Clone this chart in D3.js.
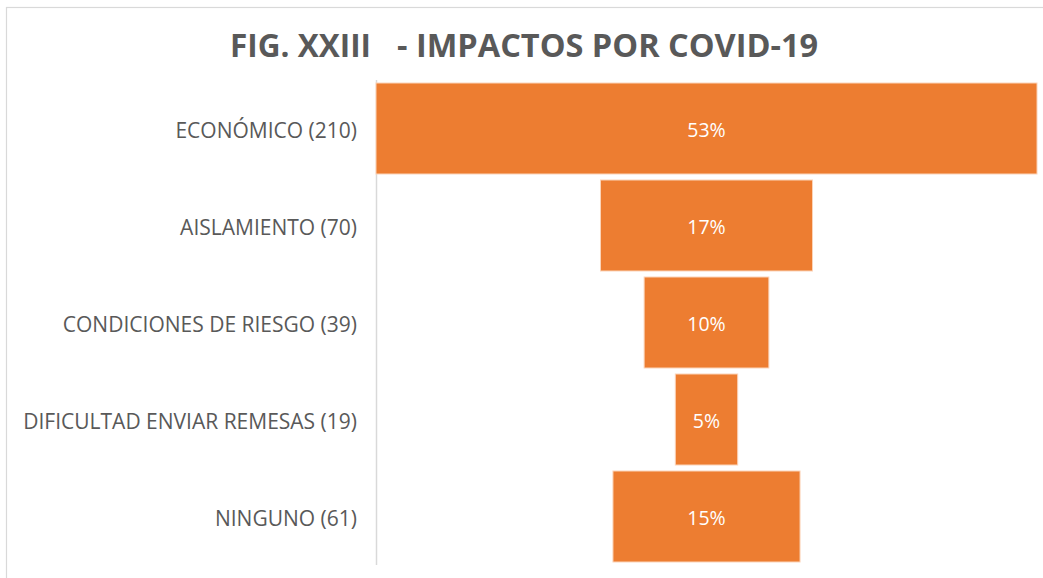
<!DOCTYPE html>
<html>
<head>
<meta charset="utf-8">
<script src="https://cdn.jsdelivr.net/npm/d3@7"></script>
<style>
  body { margin: 0; background: #fff; }
  svg { display: block; font-family: "Open Sans", sans-serif; }
</style>
</head>
<body>
<script>
// data
const categories = ["ECONÓMICO", "AISLAMIENTO", "CONDICIONES DE RIESGO", "DIFICULTAD ENVIAR REMESAS", "NINGUNO"];
const counts = [210, 70, 39, 19, 61];
const percents = [53, 17, 10, 5, 15];

const width = 1043, height = 578;
const data = categories.map((c, i) => ({ cat: c, n: counts[i], pct: percents[i] }));

const svg = d3.select("body").append("svg")
  .attr("width", width)
  .attr("height", height);

// chart area border (runs off the right and bottom edges)
svg.append("rect")
  .attr("x", 6.5).attr("y", 7.5)
  .attr("width", width + 10).attr("height", height + 10)
  .attr("fill", "none")
  .attr("stroke", "#d9d9d9")
  .attr("stroke-width", 1.2);

const maxPct = d3.max(percents);
const x = d3.scaleLinear()
  .domain([-maxPct / 2, maxPct / 2])
  .range([376, 1037]);

const y = d3.scaleBand()
  .domain(categories)
  .range([80, 565])
  .paddingInner(0.062)
  .paddingOuter(0.031);

// title
const title = svg.append("text")
  .attr("y", 57)
  .attr("fill", "#595959")
  .attr("font-weight", "bold")
  .attr("font-size", 31.5);
title.append("tspan").attr("x", 230).text("FIG. XXIII");
title.append("tspan").attr("x", 397).attr("font-size", 32.5).text("- IMPACTOS POR COVID-19");

// vertical axis line
svg.append("line")
  .attr("x1", 376.5).attr("x2", 376.5)
  .attr("y1", y.range()[0]).attr("y2", y.range()[1])
  .attr("stroke", "#d9d9d9")
  .attr("stroke-width", 1.5);

// bars
svg.append("g")
  .selectAll("rect")
  .data(data)
  .join("rect")
  .attr("x", d => x(-d.pct / 2))
  .attr("y", d => y(d.cat))
  .attr("width", d => x(d.pct / 2) - x(-d.pct / 2))
  .attr("height", y.bandwidth())
  .attr("fill", "#ED7D31")
  .attr("stroke", "#fbd3b8")
  .attr("stroke-width", 1);

// value labels
svg.append("g")
  .selectAll("text")
  .data(data)
  .join("text")
  .attr("x", d => x(0))
  .attr("y", d => y(d.cat) + y.bandwidth() / 2 + 2)
  .attr("dy", "0.35em")
  .attr("text-anchor", "middle")
  .attr("fill", "#fff")
  .attr("font-size", 19.5)
  .text(d => d.pct + "%");

// category labels
svg.append("g")
  .selectAll("text")
  .data(data)
  .join("text")
  .attr("x", 357)
  .attr("y", d => y(d.cat) + y.bandwidth() / 2 + 2)
  .attr("dy", "0.35em")
  .attr("text-anchor", "end")
  .attr("fill", "#595959")
  .attr("font-size", 21)
  .text(d => `${d.cat} (${d.n})`);
</script>
</body>
</html>
